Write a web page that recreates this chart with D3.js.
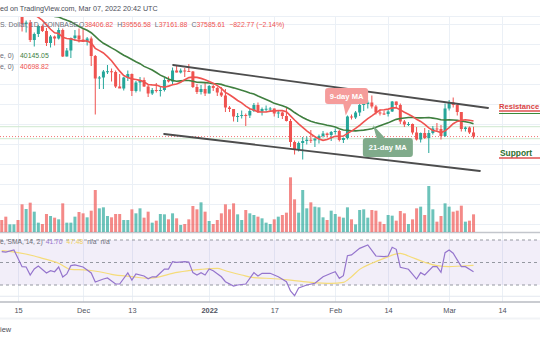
<!DOCTYPE html>
<html><head><meta charset="utf-8">
<script src="https://cdn.jsdelivr.net/npm/d3@7"></script>
<style>
html,body{margin:0;padding:0;background:#fff;overflow:hidden;}
svg{display:block;font-family:"Liberation Sans",Arial,sans-serif;}
</style></head><body>
<svg id="c" width="540" height="340"></svg>
<script>
// ---------- DATA (BTC/USD daily, Nov 11 2021 -> Mar 7 2022) ----------
const firstDay = "2021-11-11", lastDay = "2022-03-07";
const opens = [
 64900,64800,64150,64400,65500,63600,60100,60400,56900,58100,59700,58700,56300,57600,57200,58900,53600,54800,57300,57800,
 57000,56500,57200,53700,49200,49400,50600,50650,50500,47600,47200,49400,50100,46700,48400,48900,47600,46200,46900,46700,46900,48900,48600,50800,50400,50800,50700,50600,47500,46500,47100,
 46200,47700,47300,46400,45800,43400,43100,41600,41700,41900,41800,42700,43900,42600,43100,43150,43200,42200,42400,41700,40700,36500,35100,36300,36700,36950,36800,37200,37700,38200,37900,
 38500,38700,36900,37300,41600,41400,42400,43900,44100,44400,43600,42400,42200,42100,42600,44600,43900,40600,40000,40100,38400,37000,38300,37300,38300,39200,39100,37700,
 43200,44400,43900,42500,39100,39400,38406.82];
const highs = [
 65600,65500,64900,65600,66300,63600,60800,60900,58400,59900,60000,59300,57900,57800,59400,59200,55300,57400,58900,59200,
 59100,57500,57600,53900,49700,50900,51900,51200,50800,50100,49500,50800,50200,48700,49500,49400,48000,47300,48300,47500,49300,49600,51400,51800,51200,51300,52100,50700,48100,47900,48500,
 47900,47900,47500,47500,47100,43700,43100,42300,42800,42200,43100,44300,44400,43400,43800,43500,43200,42700,42600,43500,41100,36800,36600,37500,37600,38900,37200,38000,38700,38400,38700,
 39200,38900,37400,41800,42000,42700,44500,45500,44800,45800,43900,43000,42800,42900,44700,44600,44200,40900,40500,40200,39500,38400,39300,38900,39700,40300,39900,44200,
 44900,45400,44100,42500,39600,39600,39556.58];
const lows = [
 64100,62300,63300,63600,63500,58600,58400,56500,55600,57500,58500,55700,55400,55800,57000,53500,53600,53300,56700,56400,
 56500,55800,51700,42000,47100,47100,50100,48600,47300,47300,46800,48700,45700,46400,46600,47500,45500,45900,46400,45600,46600,48400,47900,50400,50200,49500,50500,47300,46100,46000,45700,
 46200,46700,45700,45500,42500,42500,40600,40500,41200,39700,41300,42500,42300,41800,42600,42600,41600,41300,41100,40600,35500,34000,34600,33000,36000,36300,35500,36200,37400,37400,36700,
 38000,36600,36300,37000,41000,41100,41700,42700,43200,43200,42000,41800,41900,41600,42500,43300,40100,39500,39700,38000,36800,36400,37100,34300,38000,38600,37000,37500,
 42800,43400,41800,38600,38600,38100,37161.88];
const closes = [
 64800,64150,64400,65500,63600,60100,60400,56900,58100,59700,58700,56300,57600,57200,58900,53600,54800,57300,57800,57000,
 56500,57200,53700,49200,49400,50600,50650,50500,47600,47200,49400,50100,46700,48400,48900,47600,46200,46900,46700,46900,48900,48600,50800,50400,50800,50700,50600,47500,46500,47100,46200,
 47700,47300,46400,45800,43400,43100,41600,41700,41900,41800,42700,43900,42600,43100,43150,43200,42200,42400,41700,40700,36500,35100,36300,36700,36950,36800,37200,37700,38200,37900,38500,
 38700,36900,37300,41600,41400,42400,43900,44100,44400,43600,42400,42200,42100,42600,44600,43900,40600,40000,40100,38400,37000,38300,37300,38300,39200,39100,37700,43200,
 44400,43900,42500,39100,39400,38408.38,37585.61];
const volumes = [
 7200,9200,4600,4600,7200,16600,13800,17600,12200,5600,4800,10800,9600,8600,7600,17200,5600,5600,9200,12000,
 11200,8800,12800,25200,14200,14800,9600,8800,10800,10800,7200,7200,13600,11200,14200,8600,12200,5600,6800,10800,10600,7600,11200,8200,4200,4800,7600,15600,13600,17800,12200,
 6600,4800,7200,11200,16600,13600,17200,10600,7200,13200,11200,10200,9200,8200,5600,4800,7600,9200,10200,11600,32800,19600,11600,25200,14200,17800,15200,14800,8800,7200,12800,
 10800,9200,8600,14800,7600,4600,13200,13600,8600,13200,12800,6200,4800,10200,9800,6800,12600,11200,4800,7600,14200,15200,10200,27600,13600,6200,9600,17200,
 15200,12200,12800,15800,6200,6800,10600];
// closes before the visible range (Oct 21 - Nov 10), used for the moving averages
const warmupCloses = [62200,60700,61300,60900,63100,60400,58500,60600,62300,61900,61300,61000,63200,62900,61400,61000,61500,63300,67500,66900,64900];
const maLegend = ["40145.05", "40698.82"]; // 21-day, 9-day as printed in the legend
// RSI(14) and its SMA, read off the lower pane
const rsiDates = ["2021-11-11","2021-11-12","2021-11-14","2021-11-16","2021-11-17","2021-11-18","2021-11-19","2021-11-20","2021-11-22","2021-11-23","2021-11-24","2021-11-25","2021-11-26","2021-11-27","2021-11-28","2021-11-29","2021-12-01","2021-12-03","2021-12-04","2021-12-06","2021-12-07","2021-12-09","2021-12-10","2021-12-12","2021-12-13","2021-12-14","2021-12-16","2021-12-17","2021-12-18","2021-12-19","2021-12-21","2021-12-22","2021-12-23","2021-12-24","2021-12-26","2021-12-27","2021-12-28","2021-12-29","2021-12-30","2021-12-31","2022-01-01","2022-01-02","2022-01-04","2022-01-05","2022-01-07","2022-01-08","2022-01-10","2022-01-12","2022-01-13","2022-01-14","2022-01-16","2022-01-18","2022-01-20","2022-01-21","2022-01-22","2022-01-23","2022-01-25","2022-01-27","2022-01-28","2022-01-29","2022-01-31","2022-02-01","2022-02-02","2022-02-03","2022-02-04","2022-02-05","2022-02-07","2022-02-09","2022-02-11","2022-02-13","2022-02-14","2022-02-15","2022-02-16","2022-02-17","2022-02-19","2022-02-21","2022-02-22","2022-02-23","2022-02-25","2022-02-26","2022-02-27","2022-02-28","2022-03-01","2022-03-02","2022-03-04","2022-03-05","2022-03-07"];
const rsiValues = [59.6,59.3,61.1,46.3,46.0,38.9,44.2,46.9,40.7,42.7,41.8,46.0,37.1,39.8,47.2,47.8,46.0,40.7,32.7,35.3,36.2,30.9,30.9,40.7,34.4,39.8,38.0,35.6,37.3,37.3,44.2,44.2,50.7,50.2,50.7,50.4,41.0,38.9,41.0,38.9,44.2,42.7,37.3,32.9,29.1,30.0,30.9,41.0,38.0,40.4,40.4,37.3,32.9,24.7,20.5,27.3,30.0,31.5,34.4,37.3,40.4,41.8,35.9,38.3,56.0,56.7,62.6,65.6,55.8,55.2,55.8,63.5,61.7,45.7,44.0,35.3,41.0,38.9,46.3,46.3,41.3,58.7,61.1,58.2,46.3,46.3,41.70];
const smaDates = ["2021-11-11","2021-11-15","2021-11-19","2021-11-21","2021-11-25","2021-11-28","2021-12-02","2021-12-05","2021-12-08","2021-12-13","2021-12-17","2021-12-20","2021-12-23","2021-12-27","2021-12-30","2022-01-03","2022-01-05","2022-01-09","2022-01-12","2022-01-15","2022-01-21","2022-01-26","2022-01-31","2022-02-03","2022-02-05","2022-02-07","2022-02-10","2022-02-13","2022-02-17","2022-02-19","2022-02-23","2022-02-26","2022-03-01","2022-03-04","2022-03-07"];
const smaValues = [60.5,58.7,55.8,53.7,49.3,43.9,43.3,41.8,39.5,37.4,36.0,37.4,40.4,42.7,43.9,44.8,42.7,38.9,36.5,36.0,34.4,32.4,31.5,32.4,37.4,43.9,49.3,53.7,58.2,55.8,50.2,47.2,46.3,46.9,47.48];
// axis ticks
const tickDates = ["2021-11-15","2021-12-01","2021-12-13","2022-01-01","2022-01-17","2022-02-01","2022-02-14","2022-03-01","2022-03-14"];
const tickLabels = ["15","Dec","13","2022","17","Feb","14","Mar","14"];
const priceGrid = [20000,24000,28000,32000,36000,40000,44000,48000,52000,56000,60000];
// hand-drawn trend channel (date, price)
const channelUpper = [["2021-12-23T03:00",51900],["2022-03-10T14:00",43300]];
const channelLower = [["2021-12-20T22:00",38100],["2022-03-08T14:00",30700]];
const rsiBands = [70,50,30];

// ---------- SETUP ----------
const W = 540, H = 340;
const P = d3.utcParse("%Y-%m-%d"), PT = d3.utcParse("%Y-%m-%dT%H:%M");
const pd = s => P(s) || PT(s);
const dates = d3.utcDay.range(pd(firstDay), d3.utcDay.offset(pd(lastDay), 1));
const candles = dates.map((d, i) => ({d, o: opens[i], h: highs[i], l: lows[i], c: closes[i], v: volumes[i]}));
const allCloses = warmupCloses.concat(closes), w = warmupCloses.length;
const sma = n => closes.map((_, i) => ({d: dates[i], v: d3.mean(allCloses.slice(w + i - n + 1, w + i + 1))}));
const ma9 = sma(9), ma21 = sma(21);

const x = d3.scaleUtc().domain([pd("2021-11-15"), pd("2022-03-14")]).range([18, 502]);
const y = d3.scaleLinear().domain([28000, 64000]).range([184.5, 4.5]);
const yVol = d3.scaleLinear().domain([0, 60000]).range([232, 132]);
const yR = d3.scaleLinear().domain([30, 70]).range([285, 240]);

const UP = "#26a69a", DN = "#ef5350";
const svg = d3.select("#c");
svg.append("rect").attr("width", W).attr("height", H).attr("fill", "#fff");
svg.append("defs").append("clipPath").attr("id", "pane")
  .append("rect").attr("x", 0).attr("y", 17).attr("width", W).attr("height", 215);

// ---------- GRID ----------
const grid = svg.append("g").attr("stroke", "#ebf0f6").attr("stroke-width", 1);
grid.selectAll("line.h").data(priceGrid).join("line")
  .attr("x1", 0).attr("x2", W).attr("y1", d => y(d)).attr("y2", d => y(d));
grid.append("line").attr("x1", 0).attr("x2", W).attr("y1", 16.5).attr("y2", 16.5);
grid.selectAll("line.v").data(tickDates).join("line")
  .attr("x1", d => Math.round(x(pd(d))) + 0.5).attr("x2", d => Math.round(x(pd(d))) + 0.5)
  .attr("y1", 16).attr("y2", 302);

// ---------- RSI PANE ----------
svg.append("rect").attr("x", 0).attr("width", W).attr("y", yR(70)).attr("height", yR(30) - yR(70))
  .attr("fill", "#7e57c2").attr("fill-opacity", 0.1);
svg.append("line").attr("x1", 0).attr("x2", W).attr("y1", yR(20)).attr("y2", yR(20)).attr("stroke", "#e3e8ef");
svg.selectAll("line.band").data(rsiBands).join("line")
  .attr("x1", 0).attr("x2", W).attr("y1", d => yR(d)).attr("y2", d => yR(d))
  .attr("stroke", "#9598a1").attr("stroke-dasharray", "3,3").attr("stroke-width", 1);
svg.append("path").datum(smaDates.map((d, i) => [x(pd(d)), yR(smaValues[i])]))
  .attr("d", d3.line().curve(d3.curveMonotoneX)).attr("fill", "none").attr("stroke", "#f5dc7a").attr("stroke-width", 1.2);
svg.append("path").datum(rsiDates.map((d, i) => [x(pd(d)), yR(rsiValues[i])]))
  .attr("d", d3.line()).attr("fill", "none").attr("stroke", "#9575cd").attr("stroke-width", 1.2);

// pane separators / axis line
svg.append("line").attr("x1", 0).attr("x2", W).attr("y1", 232.5).attr("y2", 232.5).attr("stroke", "#c3c6cc").attr("stroke-width", 1.6);
svg.append("line").attr("x1", 0).attr("x2", W).attr("y1", 302).attr("y2", 302).attr("stroke", "#b8bbc2").attr("stroke-width", 1.4);
svg.append("line").attr("x1", 0).attr("x2", W).attr("y1", 318.5).attr("y2", 318.5).attr("stroke", "#f1f3f6").attr("stroke-width", 2);

const pane = svg.append("g").attr("clip-path", "url(#pane)");

// ---------- VOLUME ----------
pane.append("g").selectAll("rect").data(candles).join("rect")
  .attr("x", d => x(d.d) - 1.5).attr("width", 3)
  .attr("y", d => yVol(d.v)).attr("height", d => yVol(0) - yVol(d.v))
  .attr("fill", d => d.c >= d.o ? UP : DN).attr("fill-opacity", 0.68);

// ---------- last-bar high/low and price line ----------
const last = candles[candles.length - 1];
pane.selectAll("line.hl").data([last.h, last.l]).join("line")
  .attr("x1", 0).attr("x2", W).attr("y1", d => y(d)).attr("y2", d => y(d))
  .attr("stroke", "#cfe8cf").attr("stroke-width", 1);
pane.append("line").attr("x1", 0).attr("x2", W).attr("y1", y(last.c)).attr("y2", y(last.c))
  .attr("stroke", DN).attr("stroke-width", 1).attr("stroke-dasharray", "1,2").attr("stroke-opacity", 0.8);

// ---------- CANDLES ----------
const cg = pane.append("g");
cg.selectAll("line").data(candles).join("line")
  .attr("x1", d => x(d.d)).attr("x2", d => x(d.d)).attr("y1", d => y(d.h)).attr("y2", d => y(d.l))
  .attr("stroke", d => d.c >= d.o ? UP : DN).attr("stroke-width", 1);
cg.selectAll("rect").data(candles).join("rect")
  .attr("x", d => x(d.d) - 1.5).attr("width", 3)
  .attr("y", d => y(Math.max(d.o, d.c))).attr("height", d => Math.max(1, Math.abs(y(d.o) - y(d.c))))
  .attr("fill", d => d.c >= d.o ? UP : DN);

// ---------- MOVING AVERAGES ----------
const ml = d3.line().x(d => x(d.d)).y(d => y(d.v));
pane.append("path").datum(ma21).attr("d", ml).attr("fill", "none").attr("stroke", "#3f7f3f").attr("stroke-width", 1.6);
pane.append("path").datum(ma9).attr("d", ml).attr("fill", "none").attr("stroke", "#ef5350").attr("stroke-width", 1.6);

// ---------- CHANNEL ----------
pane.selectAll("line.ch").data([channelUpper, channelLower]).join("line")
  .attr("x1", d => x(pd(d[0][0]))).attr("y1", d => y(d[0][1]))
  .attr("x2", d => x(pd(d[1][0]))).attr("y2", d => y(d[1][1]))
  .attr("stroke", "#4d4d4d").attr("stroke-width", 1.8).attr("stroke-linecap", "round");

// ---------- ANNOTATIONS ----------
function callout(anchorDate, anchorPrice, wBox, hBox, tipDate, tipPrice, tailDx, fill, label) {
  const bx = x(pd(anchorDate)), by = y(anchorPrice);
  const tx = x(pd(tipDate)), ty = y(tipPrice);
  const g = svg.append("g");
  const baseY = ty > by ? by + hBox - 1 : by + 1;
  g.append("path").attr("d", `M${bx + tailDx},${baseY}L${bx + tailDx + 9},${baseY}L${tx},${ty}Z`).attr("fill", fill);
  g.append("rect").attr("x", bx).attr("y", by).attr("width", wBox).attr("height", hBox).attr("rx", 3).attr("fill", fill);
  g.append("text").attr("x", bx + wBox / 2).attr("y", by + hBox / 2 + 2.8).attr("text-anchor", "middle")
    .attr("fill", "#fff").attr("font-size", 7.6).attr("font-weight", 600).text(label);
}
callout("2022-01-29T12:00", 47300, 43, 16, "2022-02-03T14:00", 41800, 18, "#f59c9b", "9-day MA");
callout("2022-02-07T19:00", 37300, 50, 19, "2022-02-10T07:00", 39900, 14, "#80ab8b", "21-day MA");

// Resistance / Support
svg.append("text").attr("x", 499).attr("y", 109).attr("fill", "#d84343").attr("font-size", 7.6).attr("font-weight", 700).text("Resistance");
svg.append("line").attr("x1", 499).attr("x2", W).attr("y1", 111).attr("y2", 111).attr("stroke", "#e05050").attr("stroke-width", 1.4);
svg.append("line").attr("x1", 499).attr("x2", W).attr("y1", 113.5).attr("y2", 113.5).attr("stroke", "#3a8a3a").attr("stroke-width", 1.2);
svg.append("text").attr("x", 500).attr("y", 155.5).attr("fill", "#2f6f2f").attr("font-size", 8.4).attr("font-weight", 700).text("Support");
svg.append("line").attr("x1", 499).attr("x2", W).attr("y1", 158).attr("y2", 158).attr("stroke", "#e05050").attr("stroke-width", 1.4);

// ---------- TIME AXIS ----------
const ax = d3.axisBottom(x).tickValues(tickDates.map(pd)).tickSize(0)
  .tickFormat((d, i) => tickLabels[i]);
const axg = svg.append("g").attr("transform", "translate(0,303)").call(ax);
axg.select(".domain").remove();
axg.selectAll("text").attr("font-size", 7.4).attr("fill", "#50535e").attr("dy", "0.9em")
  .attr("font-family", "Liberation Sans, Arial, sans-serif")
  .attr("font-weight", (d, i) => tickLabels[i] === "2022" ? 700 : 400);

// ---------- HEADER / LEGENDS ----------
const T = (xx, yy, txt, fill, fs, fw) => svg.append("text").attr("x", xx).attr("y", yy).attr("fill", fill)
  .attr("font-size", fs || 7).attr("font-weight", fw || 400).text(txt);
T(0, 11, "ed on TradingView.com, Mar 07, 2022 20:42 UTC", "#4a4d57", 7.2);
T(0, 27, "S. Dollar, 1D, COINBASE", "#6a6d78", 6.9);
const n = closes.length;
const ohlc = [["O", opens[n - 1]], ["H", highs[n - 1]], ["L", lows[n - 1]], ["C", closes[n - 1]]];
const oh = svg.append("text").attr("x", 79).attr("y", 27).attr("font-size", 6.9);
ohlc.forEach(([k, v], i) => {
  oh.append("tspan").attr("fill", "#6a6d78").attr("dx", i ? 4 : 0).text(k);
  oh.append("tspan").attr("fill", DN).text(d3.format(".2f")(v));
});
const chg = closes[n - 1] - closes[n - 2];
oh.append("tspan").attr("fill", DN).attr("dx", 4)
  .text(d3.format(".2f")(chg).replace("-", "\u2212") + " (" + d3.format(".2%")(chg / closes[n - 2]).replace("-", "\u2212") + ")");

T(0, 57.5, "e, 0)", "#6a6d78", 6.9);
T(20, 57.5, maLegend[0], "#3f7f3f", 6.9);
T(0, 68.5, "e, 0)", "#6a6d78", 6.9);
T(20, 68.5, maLegend[1], DN, 6.9);

const rl = svg.append("text").attr("x", 0).attr("y", 243.5).attr("font-size", 6.7);
rl.append("tspan").attr("fill", "#6a6d78").text("e, SMA, 14, 2)");
rl.append("tspan").attr("fill", "#9575cd").attr("dx", 3).text(rsiValues[rsiValues.length - 1].toFixed(2));
rl.append("tspan").attr("fill", "#f0d060").attr("dx", 4).text(smaValues[smaValues.length - 1].toFixed(2));
rl.append("tspan").attr("fill", "#6a6d78").attr("dx", 4).text("n/a");
rl.append("tspan").attr("fill", "#6a6d78").attr("dx", 4).text("n/a");

T(0, 332, "iew", "#4a4d57", 7.4);
</script>
</body></html>
